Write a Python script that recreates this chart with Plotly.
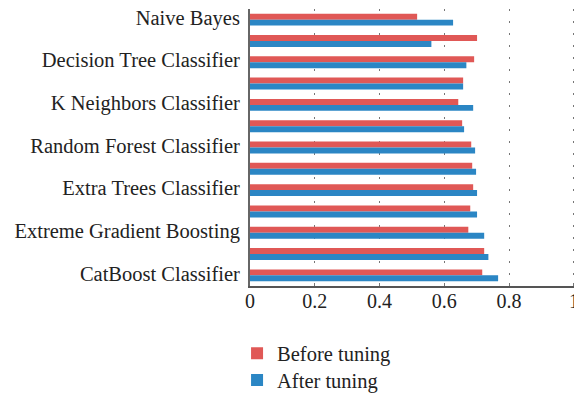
import plotly.graph_objects as go

models = [
    "Naive Bayes", "Logistic Regression", "Decision Tree Classifier",
    "SVM - Linear Kernel", "K Neighbors Classifier", "Ridge Classifier",
    "Random Forest Classifier", "Ada Boost Classifier", "Extra Trees Classifier",
    "Gradient Boosting Classifier", "Extreme Gradient Boosting",
    "Light Gradient Boosting Machine", "CatBoost Classifier",
]
shown_labels = [
    "Naive Bayes", "Decision Tree Classifier", "K Neighbors Classifier",
    "Random Forest Classifier", "Extra Trees Classifier",
    "Extreme Gradient Boosting", "CatBoost Classifier",
]
before_tuning = [0.516, 0.701, 0.692, 0.658, 0.643, 0.655, 0.683, 0.686, 0.689,
                 0.680, 0.674, 0.723, 0.717]
after_tuning = [0.627, 0.560, 0.668, 0.658, 0.689, 0.661, 0.695, 0.698, 0.701,
                0.701, 0.723, 0.736, 0.766]
x_ticks = [0, 0.2, 0.4, 0.6, 0.8, 1]
x_ticklabels = ["0", "0.2", "0.4", "0.6", "0.8", "1"]

FONT = "Liberation Serif, Times New Roman, serif"

fig = go.Figure()
fig.add_trace(go.Bar(y=models, x=before_tuning, orientation="h",
                     name="Before tuning", legend="legend",
                     marker=dict(color="#E05856", line=dict(width=0))))
fig.add_trace(go.Bar(y=models, x=after_tuning, orientation="h",
                     name="After tuning", legend="legend2",
                     marker=dict(color="#2B86C4", line=dict(width=0))))

legend_style = dict(xanchor="left", yanchor="top", traceorder="normal",
                    font=dict(size=20.5, family=FONT, color="#222"),
                    bgcolor="rgba(0,0,0,0)")

# page body has an 8px margin, so the figure is sized/offset to compensate
fig.update_layout(
    width=574, height=386,
    margin=dict(l=242, r=0, t=1, b=108, autoexpand=False),
    paper_bgcolor="white", plot_bgcolor="white",
    barmode="group", bargap=0.44, bargroupgap=0,
    font=dict(family=FONT, size=20, color="#222"),
    showlegend=True,
    legend=dict(x=-0.039, y=-0.1715, **legend_style),
    legend2=dict(x=-0.039, y=-0.268, **legend_style),
)
fig.update_xaxes(
    range=[0, 1.025], tickvals=x_ticks, ticktext=x_ticklabels,
    showgrid=True, gridcolor="#777", gridwidth=1, griddash="2px,10px",
    showline=True, linecolor="#555", linewidth=2,
    ticks="inside", ticklen=3, tickcolor="#777", automargin=False,
    ticklabelstandoff=-4,
    zeroline=False, tickfont=dict(size=20, family=FONT, color="#222"),
)
fig.update_yaxes(
    autorange="reversed", tickvals=shown_labels, ticktext=shown_labels,
    showgrid=False, showline=True, linecolor="#666", linewidth=2,
    ticks="", ticklabelstandoff=4, ticklabelshift=2, automargin=False,
    tickfont=dict(size=20.5, family=FONT, color="#222"),
)

fig.write_html("out.html")
